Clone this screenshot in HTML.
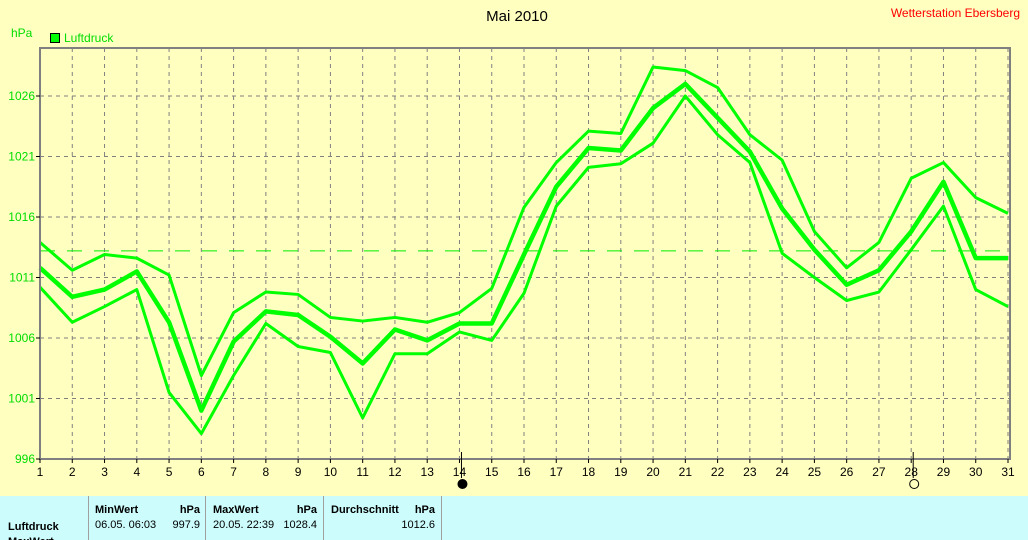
<!DOCTYPE html>
<html><head><meta charset="utf-8"><style>
body{margin:0;width:1028px;height:540px;overflow:hidden;background:#ffffc0;font-family:"Liberation Sans",sans-serif}
svg{position:absolute;left:0;top:0}
</style></head><body>
<svg width="1028" height="540">
<rect x="0" y="0" width="1028" height="496" fill="#ffffc0"/>
<text x="517" y="21" font-size="15" text-anchor="middle" fill="#000">Mai 2010</text>
<text x="1020" y="17" font-size="12" text-anchor="end" fill="#ff0000">Wetterstation Ebersberg</text>
<text x="11" y="37" font-size="12" fill="#00dd00">hPa</text>
<g><rect x="50.5" y="33.5" width="9" height="9" fill="#00ff00" stroke="#000"/><text x="64" y="42" font-size="12" fill="#00dd00">Luftdruck</text></g>
<g id="grid"></g>
<g id="series"></g>
<rect x="40" y="48" width="970" height="411" fill="none" stroke="#808080" stroke-width="2"/>
<g id="axes"></g>
<rect x="0" y="496" width="1028" height="44" fill="#ccfcfc"/>
<g stroke="#a0a0a0" stroke-width="1">
<line x1="88.5" y1="496" x2="88.5" y2="540"/><line x1="205.5" y1="496" x2="205.5" y2="540"/><line x1="323.5" y1="496" x2="323.5" y2="540"/><line x1="441.5" y1="496" x2="441.5" y2="540"/>
</g>
<g font-size="11" fill="#000">
<text x="95" y="513" font-weight="bold">MinWert</text><text x="200" y="513" font-weight="bold" text-anchor="end">hPa</text>
<text x="213" y="513" font-weight="bold">MaxWert</text><text x="317" y="513" font-weight="bold" text-anchor="end">hPa</text>
<text x="331" y="513" font-weight="bold">Durchschnitt</text><text x="435" y="513" font-weight="bold" text-anchor="end">hPa</text>
<text x="8" y="530" font-weight="bold">Luftdruck</text>
<text x="95" y="528">06.05.  06:03</text><text x="200" y="528" text-anchor="end">997.9</text>
<text x="213" y="528">20.05.  22:39</text><text x="317" y="528" text-anchor="end">1028.4</text>
<text x="435" y="528" text-anchor="end">1012.6</text>
<text x="8" y="545" font-weight="bold">MaxWert</text>
</g>
</svg>
<script>
const days=[1,2,3,4,5,6,7,8,9,10,11,12,13,14,15,16,17,18,19,20,21,22,23,24,25,26,27,28,29,30,31];
const yTicks=[996,1001,1006,1011,1016,1021,1026];
const maxVals=[1013.9,1011.6,1012.9,1012.6,1011.2,1002.9,1008.1,1009.8,1009.6,1007.7,1007.4,1007.7,1007.3,1008.1,1010.1,1016.8,1020.5,1023.1,1022.9,1028.4,1028.1,1026.7,1022.8,1020.7,1014.8,1011.8,1013.9,1019.2,1020.5,1017.6,1016.3];
const avgVals=[1011.8,1009.4,1010.0,1011.5,1007.3,1000.0,1005.7,1008.2,1007.9,1006.1,1003.9,1006.7,1005.8,1007.2,1007.2,1012.9,1018.5,1021.7,1021.5,1025.0,1027.0,1024.2,1021.4,1016.7,1013.3,1010.4,1011.6,1014.8,1018.9,1012.6,1012.6];
const minVals=[1010.2,1007.3,1008.6,1010.0,1001.5,998.1,1002.9,1007.2,1005.3,1004.8,999.4,1004.7,1004.7,1006.5,1005.8,1009.7,1016.9,1020.1,1020.4,1022.1,1026.0,1022.8,1020.5,1013.0,1011.0,1009.1,1009.8,1013.3,1016.9,1010.0,1008.6];
const meanLineVal=[1013.2];
const x=d=>40+(d-1)*(1008-40)/30;
const y=v=>459-(v-996)*(459-96)/30;
const NS="http://www.w3.org/2000/svg";
function mk(t,a,p){const e=document.createElementNS(NS,t);for(const k in a)e.setAttribute(k,a[k]);p.appendChild(e);return e;}
const grid=document.getElementById('grid'),axes=document.getElementById('axes'),ser=document.getElementById('series');
days.forEach(d=>{
 if(d>1){const l=mk('line',{x1:x(d),x2:x(d),y1:48,y2:459,stroke:'#808080','stroke-dasharray':'4,4'},grid);
 
 }
 const t=mk('text',{x:x(d),y:476,'font-size':12,'text-anchor':'middle',fill:'#000'},axes);t.textContent=d;
 
 
 mk('line',{x1:x(d),x2:x(d),y1:459,y2:463,stroke:'#000'},axes);
});
yTicks.forEach(v=>{
 if(v>996){const l=mk('line',{x1:40,x2:1010,y1:y(v),y2:y(v),stroke:'#808080','stroke-dasharray':'4,4'},grid);
 
 }
 mk('line',{x1:36,x2:40,y1:y(v),y2:y(v),stroke:'#000'},axes);
 const t=mk('text',{x:35,y:y(v)+4,'font-size':12,'text-anchor':'end',fill:'#00dd00'},axes);t.textContent=v;
 
 
});
const ml=mk('line',{x1:40,x2:1010,y1:y(meanLineVal[0]),y2:y(meanLineVal[0]),stroke:'#00ee00','stroke-dasharray':'15,12'},grid);


function line(vals,w,name){const p=mk('polyline',{points:vals.map((v,i)=>x(days[i])+','+y(v)).join(' '),fill:'none',stroke:'#00ff00','stroke-width':w,'stroke-linejoin':'round'},ser);
 
 }
line(maxVals,3,'max-line');line(minVals,3,'min-line');line(avgVals,4.5,'avg-line');
[[14,'#000'],[28,'#ffffc0']].forEach(([d,f])=>{
 mk('line',{x1:x(d)+2,x2:x(d)+2,y1:452,y2:478,stroke:'#000'},axes);
 const c=mk('circle',{cx:x(d)+3,cy:484,r:4.5,fill:f,stroke:'#000'},axes);
 
 
});
</script>
</body></html>
